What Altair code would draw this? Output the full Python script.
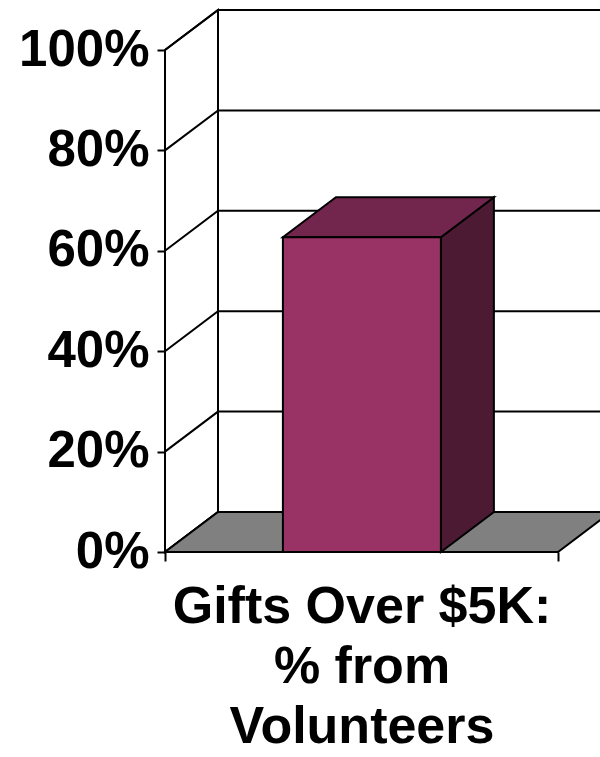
import altair as alt
import pandas as pd

# ---- data ----
categories = ["Gifts Over $5K: % from Volunteers"]
values = [62.7]                      # percent
axis_ticks = [0, 20, 40, 60, 80, 100]
category_label_lines = ["Gifts Over $5K:", "% from", "Volunteers"]

# ---- layout / style constants ----
PLOT_W, PLOT_H = 393, 502
PAD = {"left": 165, "top": 50, "right": 42, "bottom": 205}
DX = 53 / PLOT_W            # 3-D depth, in x-scale units
DY = 40 / (PLOT_H / 100)    # 3-D depth, in percent units
BAR_X0, BAR_X1 = 0.300, 0.702
XMAX = 1.3
FONT = "Liberation Sans"
FRONT, TOP, SIDE, FLOOR = "#993366", "#73264D", "#4D1A33", "#808080"
SW = 2

xs = alt.Scale(domain=[0, 1], nice=False, zero=False)
ys = alt.Scale(domain=[0, 100], nice=False, zero=False)

x_axis = alt.Axis(
    values=[0, 1], labels=False, domain=False, grid=False,
    tickSize=9, tickColor="black", tickWidth=SW,
    title=category_label_lines, titleFont=FONT, titleFontSize=52, titleFontWeight="bold",
    titleColor="black", titleLineHeight=60, titlePadding=19,
)
y_axis = alt.Axis(
    values=axis_ticks, labelExpr="datum.value + '%'", grid=False,
    labelFont=FONT, labelFontSize=51, labelFontWeight="bold", labelColor="black",
    labelPadding=8, tickSize=8, tickColor="black", tickWidth=SW,
    domain=True, domainColor="black", domainWidth=SW, title=None,
)

# left wall (vertical parallelogram) -- carries the axes
wall_df = pd.DataFrame({"x": [0, DX], "y": [0, DY], "y2": [100, 100 + DY]})
wall = alt.Chart(wall_df).mark_area(fill="white", stroke="black", strokeWidth=SW, clip=False).encode(
    x=alt.X("x:Q", scale=xs, axis=x_axis),
    y=alt.Y("y:Q", scale=ys, axis=y_axis),
    y2="y2:Q",
)

# gridlines: diagonal on left wall + horizontal on back wall
grid_rows = []
for t in axis_ticks:
    grid_rows += [
        {"level": t, "seq": 0, "x": 0, "y": t},
        {"level": t, "seq": 1, "x": DX, "y": t + DY},
        {"level": t, "seq": 2, "x": XMAX, "y": t + DY},
    ]
grid = alt.Chart(pd.DataFrame(grid_rows)).mark_line(color="black", strokeWidth=SW, clip=False).encode(
    x=alt.X("x:Q", scale=xs),
    y=alt.Y("y:Q", scale=ys),
    detail="level:N",
    order="seq:Q",
)

# floor (horizontal parallelogram)
floor_df = pd.DataFrame({"y": [0, DY], "x": [0, DX], "x2": [1, 1 + DX]})
floor = alt.Chart(floor_df).mark_area(orient="horizontal", fill=FLOOR, stroke="black",
                                      strokeWidth=SW, clip=False).encode(
    y=alt.Y("y:Q", scale=ys),
    x=alt.X("x:Q", scale=xs),
    x2="x2:Q",
)

v = values[0]
side_df = pd.DataFrame({"x": [BAR_X1, BAR_X1 + DX], "y": [0, DY], "y2": [v, v + DY]})
side = alt.Chart(side_df).mark_area(fill=SIDE, stroke="black", strokeWidth=SW, clip=False).encode(
    x=alt.X("x:Q", scale=xs),
    y=alt.Y("y:Q", scale=ys),
    y2="y2:Q",
)

top_df = pd.DataFrame({"y": [v, v + DY], "x": [BAR_X0, BAR_X0 + DX], "x2": [BAR_X1, BAR_X1 + DX]})
top = alt.Chart(top_df).mark_area(orient="horizontal", fill=TOP, stroke="black",
                                  strokeWidth=SW, clip=False).encode(
    y=alt.Y("y:Q", scale=ys),
    x=alt.X("x:Q", scale=xs),
    x2="x2:Q",
)

front_df = pd.DataFrame({"category": categories, "x": [BAR_X0], "x2": [BAR_X1], "y": [0], "y2": values})
front = alt.Chart(front_df).mark_rect(fill=FRONT, stroke="black", strokeWidth=SW, clip=False).encode(
    x=alt.X("x:Q", scale=xs),
    x2="x2:Q",
    y=alt.Y("y:Q", scale=ys),
    y2="y2:Q",
)

chart = alt.layer(wall, grid, floor, side, top, front).properties(
    width=PLOT_W, height=PLOT_H,
    autosize=alt.AutoSizeParams(type="none"),
    padding=PAD,
    background="white",
).configure_view(stroke=None)

chart.save("out.html", embed_options={"renderer": "svg", "actions": False})
